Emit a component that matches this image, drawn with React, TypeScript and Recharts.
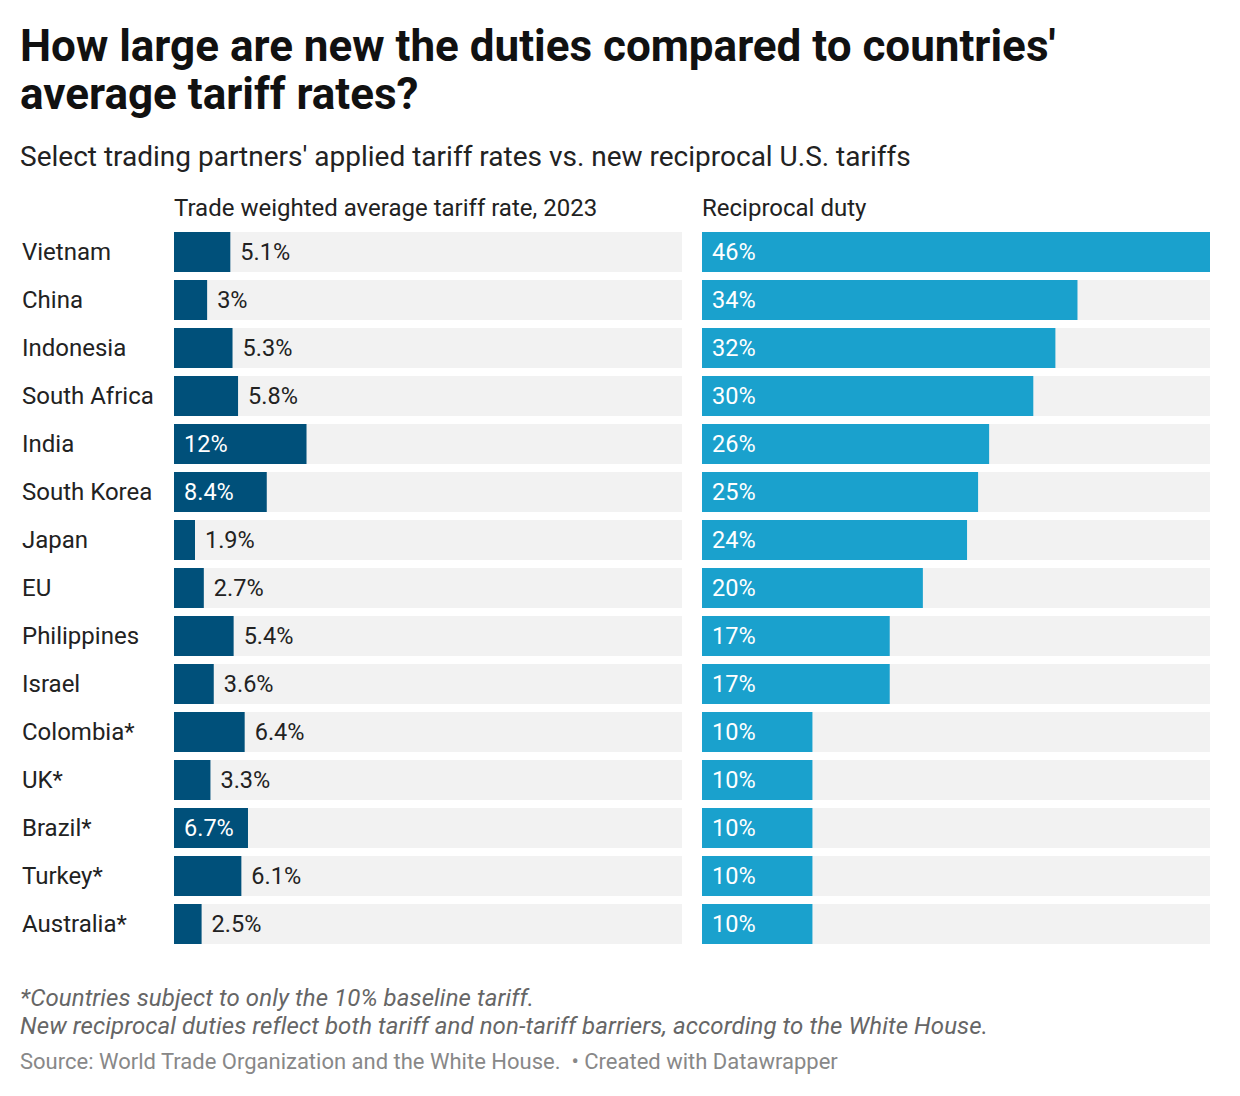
import { Bar, BarChart, LabelList, XAxis, YAxis } from 'recharts'

const countries = [
  'Vietnam',
  'China',
  'Indonesia',
  'South Africa',
  'India',
  'South Korea',
  'Japan',
  'EU',
  'Philippines',
  'Israel',
  'Colombia*',
  'UK*',
  'Brazil*',
  'Turkey*',
  'Australia*',
]
const avgTariff = [5.1, 3, 5.3, 5.8, 12, 8.4, 1.9, 2.7, 5.4, 3.6, 6.4, 3.3, 6.7, 6.1, 2.5]
const reciprocalDuty = [46, 34, 32, 30, 26, 25, 24, 20, 17, 17, 10, 10, 10, 10, 10]

const data = countries.map((country, i) => ({
  country,
  avg: avgTariff[i],
  duty: reciprocalDuty[i],
}))

const FONT = 'Roboto, sans-serif'
const TEXT = '#222'
const DARK = '#00507a'
const LIGHT = '#1aa1cd'
const TRACK = '#f2f2f2'
const DOMAIN: [number, number] = [0, 46]

const ROW = 48
const BAR = 40
const PLOT_TOP = 228
const PLOT_H = ROW * countries.length

// value goes inside the bar when there is room, otherwise just past its end
function ValueLabel(props: any) {
  const { x, y, width, height, value } = props
  const inside = width > 72
  return (
    <text
      x={inside ? x + 10 : x + width + 10}
      y={y + height / 2}
      dy="0.34em"
      fontFamily={FONT}
      fontSize={23.5}
      fill={inside ? '#fff' : TEXT}
    >
      {`${value}%`}
    </text>
  )
}

function CountryTick(props: any) {
  const { y, payload } = props
  return (
    <text x={22} y={y} dy="0.34em" fontFamily={FONT} fontSize={24} fill={TEXT}>
      {payload.value}
    </text>
  )
}

export default function App() {
  return (
    <div
      style={{
        position: 'absolute',
        left: 0,
        top: 0,
        width: 1240,
        height: 1096,
        background: '#fff',
        fontFamily: FONT,
        color: TEXT,
      }}
    >
      <div
        style={{
          position: 'absolute',
          left: 20,
          top: 22,
          width: 1150,
          fontSize: 44,
          fontWeight: 700,
          lineHeight: '48px',
          color: '#111',
        }}
      >
        How large are new the duties compared to countries' average tariff rates?
      </div>
      <div style={{ position: 'absolute', left: 20, top: 140, fontSize: 28, whiteSpace: 'nowrap' }}>
        Select trading partners' applied tariff rates vs. new reciprocal U.S. tariffs
      </div>

      <div style={{ position: 'absolute', left: 174, top: 194, fontSize: 24, whiteSpace: 'nowrap' }}>
        Trade weighted average tariff rate, 2023
      </div>
      <div style={{ position: 'absolute', left: 702, top: 194, fontSize: 24, whiteSpace: 'nowrap' }}>
        Reciprocal duty
      </div>

      <div style={{ position: 'absolute', left: 0, top: PLOT_TOP }}>
        <BarChart
          width={682}
          height={PLOT_H}
          data={data}
          layout="vertical"
          margin={{ top: 0, right: 0, bottom: 0, left: 0 }}
          barSize={BAR}
        >
          <XAxis type="number" domain={DOMAIN} hide />
          <YAxis
            type="category"
            dataKey="country"
            width={174}
            axisLine={false}
            tickLine={false}
            tick={<CountryTick />}
            interval={0}
          />
          <Bar dataKey="avg" fill={DARK} background={{ fill: TRACK }} isAnimationActive={false}>
            <LabelList dataKey="avg" content={<ValueLabel />} />
          </Bar>
        </BarChart>
      </div>

      <div style={{ position: 'absolute', left: 702, top: PLOT_TOP }}>
        <BarChart
          width={508}
          height={PLOT_H}
          data={data}
          layout="vertical"
          margin={{ top: 0, right: 0, bottom: 0, left: 0 }}
          barSize={BAR}
        >
          <XAxis type="number" domain={DOMAIN} hide />
          <YAxis type="category" dataKey="country" hide />
          <Bar dataKey="duty" fill={LIGHT} background={{ fill: TRACK }} isAnimationActive={false}>
            <LabelList dataKey="duty" content={<ValueLabel />} />
          </Bar>
        </BarChart>
      </div>

      <div
        style={{
          position: 'absolute',
          left: 20,
          top: 984,
          fontSize: 24,
          fontStyle: 'italic',
          letterSpacing: 0.1,
          lineHeight: '28px',
          color: '#666',
          whiteSpace: 'nowrap',
        }}
      >
        *Countries subject to only the 10% baseline tariff.
        <br />
        New reciprocal duties reflect both tariff and non-tariff barriers, according to the White House.
      </div>
      <div
        style={{
          position: 'absolute',
          left: 20,
          top: 1049,
          fontSize: 22,
          color: '#888',
          whiteSpace: 'nowrap',
        }}
      >
        Source: World Trade Organization and the White House.{'\u00a0\u00a0'}• Created with Datawrapper
      </div>
    </div>
  )
}
